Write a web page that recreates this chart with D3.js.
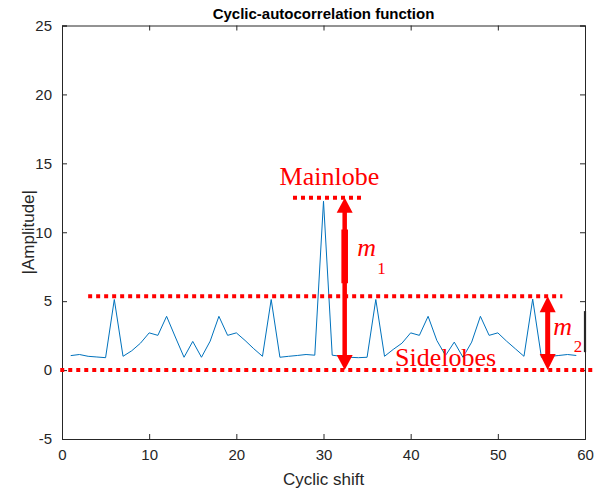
<!DOCTYPE html>
<html>
<head>
<meta charset="utf-8">
<script src="https://cdn.jsdelivr.net/npm/d3@7/dist/d3.min.js"></script>
<style>
  html, body { margin: 0; padding: 0; background: #fff; }
  svg { display: block; }
</style>
</head>
<body>
<div id="chart"></div>
<script>
// Cyclic shift values 1..59 and the magnitude of the cyclic autocorrelation
const shifts = d3.range(1, 60);
const amplitude = [
  1.05, 1.13, 1.00, 0.95, 0.90, 5.12, 1.00, 1.40, 1.95, 2.70,
  2.52, 3.90, 2.40, 0.93, 2.08, 0.93, 2.10, 3.90, 2.52, 2.70,
  2.15, 1.55, 1.00, 5.12, 0.93, 1.00, 1.06, 1.13, 1.08, 12.25,
  1.08, 1.00, 0.93, 0.90, 0.93, 5.12, 1.00, 1.50, 1.95, 2.70,
  2.52, 3.90, 2.15, 1.06, 2.03, 0.93, 2.03, 3.90, 2.52, 2.70,
  2.10, 1.55, 1.00, 5.15, 0.93, 1.00, 1.06, 1.13, 1.06
];
const xTicks = [0, 10, 20, 30, 40, 50, 60];
const yTicks = [-5, 0, 5, 10, 15, 20, 25];

// Reference levels for the annotation
const mainlobeLevel = 12.5;
const sidelobeLevel = 5.36;
const zeroLevel = 0;

const W = 602, H = 493;
const margin = { left: 62, right: 17, top: 25.5, bottom: 54 };
const iw = W - margin.left - margin.right;
const ih = H - margin.top - margin.bottom;

const x = d3.scaleLinear().domain([0, 60]).range([0, iw]);
const y = d3.scaleLinear().domain([-5, 25]).range([ih, 0]);

const svg = d3.select("#chart").append("svg")
  .attr("width", W).attr("height", H);
const g = svg.append("g")
  .attr("transform", `translate(${margin.left},${margin.top})`);

const axisColor = "#262626";
const sansFont = "Liberation Sans, Arial, sans-serif";
const plainNum = d => String(d);

// Axes with inward ticks on all four sides
const tickLen = 5;
const bottomAxis = d3.axisBottom(x).tickValues(xTicks).tickSize(-tickLen).tickPadding(10).tickFormat(plainNum);
const topAxis = d3.axisTop(x).tickValues(xTicks).tickSize(-tickLen).tickFormat("");
const leftAxis = d3.axisLeft(y).tickValues(yTicks).tickSize(-tickLen).tickPadding(10).tickFormat(plainNum);
const rightAxis = d3.axisRight(y).tickValues(yTicks).tickSize(-tickLen).tickFormat("");

function styleAxis(sel) {
  sel.select(".domain").attr("stroke", axisColor).attr("stroke-width", 1);
  sel.selectAll(".tick line").attr("stroke", axisColor).attr("stroke-width", 1);
  sel.selectAll(".tick text").attr("fill", axisColor)
    .style("font-family", sansFont).style("font-size", "15px");
}

g.append("g").attr("transform", `translate(0,${ih})`).call(bottomAxis).call(styleAxis);
g.append("g").call(topAxis).call(styleAxis);
g.append("g").call(leftAxis).call(styleAxis);
g.append("g").attr("transform", `translate(${iw},0)`).call(rightAxis).call(styleAxis);

// Correlation magnitude curve
const line = d3.line()
  .x((d, i) => x(shifts[i]))
  .y(d => y(d));
g.append("path")
  .datum(amplitude)
  .attr("fill", "none")
  .attr("stroke", "#0072BD")
  .attr("stroke-width", 1)
  .attr("d", line);

// Title and axis labels
svg.append("text")
  .attr("x", margin.left + iw / 2).attr("y", 19)
  .attr("text-anchor", "middle")
  .style("font-family", sansFont).style("font-size", "15px").style("font-weight", "bold")
  .attr("fill", "#000")
  .text("Cyclic-autocorrelation function");

svg.append("text")
  .attr("x", margin.left + iw / 2).attr("y", 485)
  .attr("text-anchor", "middle")
  .style("font-family", sansFont).style("font-size", "17px")
  .attr("fill", axisColor)
  .text("Cyclic shift");

svg.append("text")
  .attr("transform", `translate(34,${margin.top + ih / 2}) rotate(-90)`)
  .attr("text-anchor", "middle")
  .style("font-family", sansFont).style("font-size", "17px")
  .attr("fill", axisColor)
  .text("|Amplitude|");

// Annotation layer
const red = "#FF0000";
const ann = g.append("g");

function dotted(x0, x1, level) {
  ann.append("line")
    .attr("x1", x(x0)).attr("x2", x(x1))
    .attr("y1", y(level)).attr("y2", y(level))
    .attr("stroke", red).attr("stroke-width", 4)
    .attr("stroke-dasharray", "4,4");
}
dotted(-0.2, 61, zeroLevel);
dotted(3.0, 57.4, sidelobeLevel);
dotted(26.5, 34.4, mainlobeLevel);

function doubleArrow(xv, top, bottom, shaftW, headW, headH) {
  const cx = x(xv), y0 = y(top), y1 = y(bottom);
  ann.append("rect")
    .attr("x", cx - shaftW / 2).attr("y", y0 + headH - 1)
    .attr("width", shaftW).attr("height", (y1 - y0) - 2 * headH + 2)
    .attr("fill", red);
  ann.append("path")
    .attr("d", `M${cx},${y0} L${cx - headW / 2},${y0 + headH} L${cx + headW / 2},${y0 + headH} Z`)
    .attr("fill", red);
  ann.append("path")
    .attr("d", `M${cx},${y1} L${cx - headW / 2},${y1 - headH} L${cx + headW / 2},${y1 - headH} Z`)
    .attr("fill", red);
  return cx;
}

const m1x = doubleArrow(32.43, mainlobeLevel, zeroLevel, 4.5, 16, 15);
// heavier middle stretch of the m1 shaft
ann.append("rect")
  .attr("x", m1x - 3.3).attr("y", y(10.2))
  .attr("width", 6.6).attr("height", y(6.3) - y(10.2))
  .attr("fill", red);
const m2x = doubleArrow(55.72, sidelobeLevel, zeroLevel, 5, 16, 16);

const serif = "Liberation Serif, Times New Roman, serif";
function label(xp, yp, txt, size, italic, anchor) {
  ann.append("text")
    .attr("x", xp).attr("y", yp)
    .attr("text-anchor", anchor || "start")
    .style("font-family", serif).style("font-size", size + "px")
    .style("font-style", italic ? "italic" : "normal")
    .attr("fill", red)
    .text(txt);
}

label(x(30.68), y(mainlobeLevel) - 12.5, "Mainlobe", 26, false, "middle");
label(x(38.2), y(zeroLevel) - 4.5, "Sidelobes", 26, false);

label(m1x + 12.5, y(8.3), "m", 26, true);
label(m1x + 32.5, y(7.0), "1", 17, false);
label(m2x + 5.5, y(2.53), "m", 26, true);
label(m2x + 26, y(1.3), "2", 17, false);

// darker stretch on the right border
g.append("line")
  .attr("x1", iw).attr("x2", iw)
  .attr("y1", y(4.28)).attr("y2", y(1.3))
  .attr("stroke", axisColor).attr("stroke-width", 2.2);
</script>
</body>
</html>
